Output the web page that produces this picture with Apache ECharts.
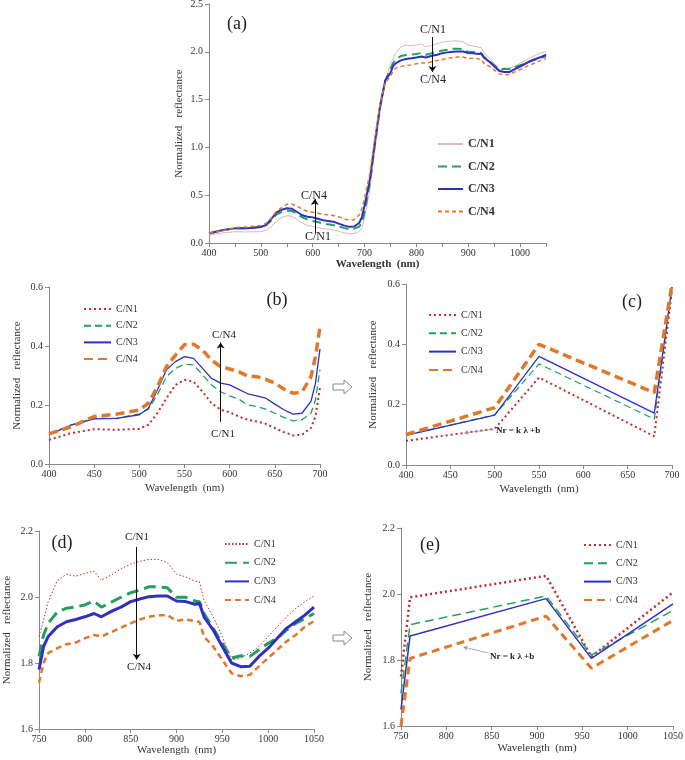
<!DOCTYPE html>
<html><head><meta charset="utf-8">
<script src="https://cdn.jsdelivr.net/npm/echarts@6/dist/echarts.min.js"></script>
<style>html,body{margin:0;padding:0;background:#fff}#c{width:685px;height:760px}</style>
</head><body><div id="c"></div>
<script>
// Full spectrum (nm) shared by panels a, b, d
const wavelength = [400,425,450,475,500,510,520,530,540,550,560,570,580,590,600,610,620,630,640,650,660,670,680,690,695,700,710,720,730,740,750,755,760,770,780,790,800,810,818,830,840,850,860,870,880,890,900,910,920,925,930,940,950,960,970,980,990,1000,1010,1020,1030,1040,1050];
const cn1 = [0.082,0.105,0.118,0.116,0.119, 0.133,0.172,0.223,0.268,0.285,0.279,0.245,0.206,0.184,0.175,0.161,0.150,0.144,0.136,0.122,0.108,0.097,0.099,0.122, 0.161, 0.26,0.55,0.98,1.38,1.68,1.88, 1.93, 1.986,2.05,2.069,2.063,2.071,2.079, 2.051, 2.069,2.086,2.10,2.108,2.114,2.114,2.104,2.069,2.061,2.048, 2.046, 1.99,1.94,1.88,1.81,1.815,1.83,1.85,1.88,1.91,1.94,1.965,1.986,2.003];
const cn2 = [0.101,0.133,0.155,0.155,0.170, 0.186,0.234,0.296,0.324,0.338,0.336,0.302,0.268,0.245,0.231,0.220,0.200,0.195,0.186,0.172,0.158,0.146,0.150,0.172, 0.217, 0.32,0.62,1.03,1.42,1.70,1.82, 1.885, 1.92,1.955,1.966,1.97,1.976,1.988, 1.969, 1.986,2.0,2.013,2.021,2.031,2.031,2.028,1.999,1.999,1.988, 1.986, 1.95,1.905,1.86,1.815,1.822,1.82,1.84,1.86,1.875,1.90,1.92,1.935,1.95];
const cn3 = [0.099,0.133,0.153,0.155,0.167, 0.189,0.251,0.319,0.347,0.364,0.358,0.324,0.290,0.274,0.268,0.253,0.238,0.231,0.223,0.203,0.184,0.169,0.172,0.212, 0.274, 0.39,0.66,1.06,1.44,1.70,1.78, 1.85, 1.88,1.91,1.925,1.932,1.94,1.95, 1.94, 1.958,1.97,1.986,1.994,2.001,2.003,2.003,1.988,1.986,1.978, 1.981, 1.94,1.90,1.85,1.80,1.789,1.79,1.82,1.845,1.875,1.905,1.925,1.945,1.969];
const cn4 = [0.102,0.127,0.161,0.169,0.183, 0.206,0.262,0.330,0.369,0.405,0.406,0.386,0.352,0.330,0.322,0.313,0.298,0.296,0.287,0.274,0.254,0.240,0.243,0.296, 0.364, 0.465,0.72,1.10,1.46,1.68,1.74, 1.80, 1.83,1.845,1.857,1.862,1.875,1.885, 1.88, 1.895,1.908,1.92,1.932,1.94,1.945,1.945,1.928,1.932,1.927, 1.925, 1.88,1.85,1.81,1.769,1.76,1.764,1.79,1.815,1.84,1.865,1.885,1.91,1.927];

// Panel c: linear-segment approximation, visible range
const cWavelength = [400,500,550,680,700];
const cCn1 = [0.080,0.120,0.290,0.095,0.58];
const cCn2 = [0.099,0.166,0.335,0.152,0.59];
const cCn3 = [0.098,0.165,0.360,0.172,0.59];
const cCn4 = [0.101,0.190,0.400,0.240,0.60];

// Panel e: linear-segment approximation, NIR range
const eWavelength = [750,760,910,960,1050];
const eCn1 = [1.75,1.99,2.055,1.81,2.005];
const eCn2 = [1.70,1.907,1.994,1.815,1.95];
const eCn3 = [1.65,1.873,1.986,1.805,1.97];
const eCn4 = [1.60,1.805,1.933,1.775,1.92];

const seriesNames = ['C/N1','C/N2','C/N3','C/N4'];

const SERIF = "'Liberation Serif','DejaVu Serif',serif";
const RED = '#c22a30', GREEN = '#23a05e', BLUE = '#3030c0', ORANGE = '#e0772a', PINK = '#e2b3c2';

function pairs(xs, ys, lo, hi) {
  const out = [];
  for (let i = 0; i < xs.length; i++) if (xs[i] >= lo && xs[i] <= hi) out.push([xs[i], ys[i]]);
  return out;
}

const grids = [
  {left:209, top:4,   width:337, height:239},
  {left:49,  top:287, width:271, height:177},
  {left:406, top:284, width:266, height:181},
  {left:39,  top:531, width:275, height:198},
  {left:401, top:528, width:272, height:198}
].map(g => Object.assign({outerBoundsMode:'none', containLabel:false}, g));

function xAxis(gi, min, max, interval, nameGap, labelEvery) {
  return {
    type:'value', gridIndex:gi, min:min, max:max, interval:interval,
    name:'Wavelength  (nm)', nameLocation:'middle', nameGap:nameGap,
    nameTextStyle:{fontFamily:SERIF, fontSize:11, color:'#333', fontWeight: gi===0?'bold':'normal'},
    axisLine:{lineStyle:{color:'#8a8a8a'}},
    axisTick:{show:true, length:4, lineStyle:{color:'#8a8a8a'}},
    splitLine:{show:false},
    axisLabel:{fontFamily:SERIF, fontSize:10, color:'#333', margin:5,
      formatter: v => (labelEvery && v % labelEvery !== 0) ? '' : String(v)}
  };
}
function yAxis(gi, min, max, interval, nameGap) {
  return {
    type:'value', gridIndex:gi, min:min, max:max, interval:interval,
    name:'Normalized   reflectance', nameLocation:'middle', nameGap:nameGap,
    nameTextStyle:{fontFamily:SERIF, fontSize:11, color:'#333'},
    axisLine:{show:true, lineStyle:{color:'#8a8a8a'}},
    axisTick:{show:true, length:4, lineStyle:{color:'#8a8a8a'}},
    splitLine:{show:false},
    axisLabel:{fontFamily:SERIF, fontSize:10, color:'#333', margin:6, formatter: v => v.toFixed(1)}
  };
}

function line(tag, name, gi, data, color, width, type, z) {
  return {
    type:'line', name: tag + '|' + name, xAxisIndex:gi, yAxisIndex:gi, data:data,
    symbol:'none', showSymbol:false, animation:false, silent:true, z: z || 2,
    lineStyle:{color:color, width:width, type:type, cap:'butt'},
    itemStyle:{color:color}
  };
}

const styles = {
  a: [[PINK,1,'solid'],[GREEN,2,[9,5]],[BLUE,2,'solid'],[ORANGE,1.5,[4,3]]],
  b: [[RED,2,[2,3]],[GREEN,1.3,[7,4]],[BLUE,1.3,'solid'],[ORANGE,3.5,[9,5]]],
  c: [[RED,2,[2,3]],[GREEN,1.3,[7,4]],[BLUE,1.3,'solid'],[ORANGE,3.5,[9,5]]],
  d: [[RED,1,[1.5,2]],[GREEN,3,[12,6]],[BLUE,3,'solid'],[ORANGE,2.5,[6,4]]],
  e: [[RED,2.5,[2,3]],[GREEN,1.5,[9,5]],[BLUE,1.5,'solid'],[ORANGE,3,[8,5]]]
};

const full = [cn1, cn2, cn3, cn4];
const cSet = [cCn1, cCn2, cCn3, cCn4];
const eSet = [eCn1, eCn2, eCn3, eCn4];
const series = [];
seriesNames.forEach((n, i) => {
  series.push(line('a', n, 0, pairs(wavelength, full[i], 400, 1050), ...styles.a[i]));
  series.push(line('b', n, 1, pairs(wavelength, full[i], 400, 700), ...styles.b[i]));
  series.push(line('c', n, 2, pairs(cWavelength, cSet[i], 400, 700), ...styles.c[i]));
  series.push(line('d', n, 3, pairs(wavelength, full[i], 750, 1050), ...styles.d[i]));
  series.push(line('e', n, 4, pairs(eWavelength, eSet[i], 750, 1050), ...styles.e[i]));
});

// Annotation arrows (in data coordinates) as markLines on helper series
function arrowSeries(gi, segs, color, width, size) {
  return {
    type:'line', xAxisIndex:gi, yAxisIndex:gi, data:[], silent:true, animation:false,
    markLine:{silent:true, animation:false, symbol:['none','arrow'], symbolSize:size,
      lineStyle:{color:color, width:width, type:'solid'}, label:{show:false},
      emphasis:{disabled:true},
      data: segs.map(s => [{coord:[s[0],s[1]]},{coord:[s[2],s[3]]}])}
  };
}
series.push(arrowSeries(0, [[831,2.154,831,1.79],[604,0.10,604,0.46]], '#111', 1, 6));
series.push(arrowSeries(1, [[590,0.143,590,0.412]], '#111', 1, 6));
series.push(arrowSeries(2, [[499,0.119,466,0.106]], '#999', 0.8, 4));
series.push(arrowSeries(3, [[856.6,2.152,856.6,1.81]], '#111', 1, 6));
series.push(arrowSeries(4, [[847,1.821,819,1.839]], '#999', 0.8, 4));

function legend(tag, left, top, itemWidth, itemHeight, itemGap, fontSize, bold) {
  return {
    orient:'vertical', left:left, top:top, itemWidth:itemWidth, itemHeight:itemHeight, itemGap:itemGap,
    selectedMode:false, padding:0,
    itemStyle:{opacity:0, color:'rgba(0,0,0,0)', borderWidth:0},
    data: seriesNames.map(n => tag + '|' + n),
    formatter: name => name.split('|')[1],
    textStyle:{fontFamily:SERIF, fontSize:fontSize, color:'#333', fontWeight: bold?'bold':'normal'}
  };
}

function label(x, y, s, size, weight, align) {
  return {type:'text', x:x, y:y, silent:true,
    style:{text:s, fontFamily:SERIF, fontSize:size, fontWeight:weight||'normal', fill:'#222',
      align:align||'center', verticalAlign:'middle'}};
}
function hollowArrow(x, y) {
  return {type:'polygon', x:x, y:y, silent:true,
    shape:{points:[[0,-3],[11,-3],[11,-7],[19,0],[11,7],[11,3],[0,3]]},
    style:{fill:'#fff', stroke:'#888', lineWidth:1}};
}

const graphics = [
  label(237, 24, '(a)', 18), label(277, 300, '(b)', 18), label(632, 302, '(c)', 18),
  label(62, 543, '(d)', 18), label(430, 545, '(e)', 18),
  label(433, 30, 'C/N1', 12), label(433, 80, 'C/N4', 12),
  label(314, 196, 'C/N4', 12), label(318, 237, 'C/N1', 12),
  label(224, 335, 'C/N4', 11), label(223, 434, 'C/N1', 11),
  label(137, 537, 'C/N1', 11), label(139, 667, 'C/N4', 11),
  label(496, 431, 'Nr = k λ +b', 9, 'bold', 'left'),
  label(490, 657, 'Nr = k λ +b', 9, 'bold', 'left'),
  hollowArrow(333, 387), hollowArrow(333, 638)
];

const option = {
  animation:false,
  backgroundColor:'#fff',
  grid: grids,
  xAxis: [xAxis(0,400,1050,50,13,100), xAxis(1,400,700,50,19), xAxis(2,400,700,50,19), xAxis(3,750,1050,50,15), xAxis(4,750,1050,50,17)],
  yAxis: [yAxis(0,0,2.5,0.5,24), yAxis(1,0,0.6,0.2,26), yAxis(2,0,0.6,0.2,27), yAxis(3,1.6,2.2,0.2,26), yAxis(4,1.6,2.2,0.2,27)],
  legend: [
    legend('a', 437, 138, 25, 12, 10.5, 12, true),
    legend('b', 83, 304, 27, 10, 6.7, 10),
    legend('c', 428, 310, 27, 10, 8.3, 10),
    legend('d', 224, 539, 24, 10, 8.7, 10),
    legend('e', 583, 540, 27, 10, 8.3, 10)
  ],
  series: series,
  graphic: graphics
};
const chart = echarts.init(document.getElementById('c'), null, {renderer:'canvas'});
chart.setOption(option);
</script></body></html>
